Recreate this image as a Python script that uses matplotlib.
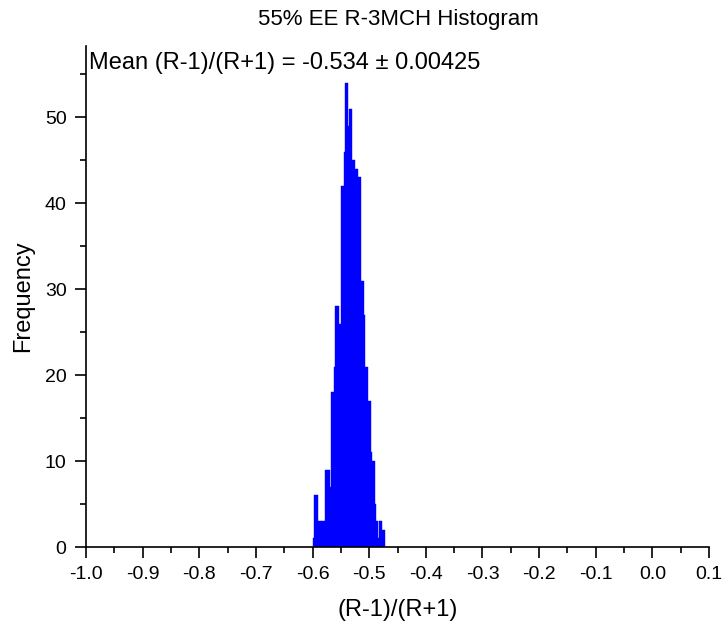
import matplotlib.pyplot as plt
import numpy as np

plt.rcParams['font.family'] = ['Liberation Sans', 'DejaVu Sans']

# histogram: bins of 0.0025 starting at -0.6
bin_start = -0.6
bin_width = 0.0025
counts = [1, 6, 6, 6, 3, 3, 3, 3, 3, 9,
          9, 9, 7, 18, 18, 21, 28, 28, 28, 26,
          42, 42, 46, 54, 54, 49, 51, 51, 45, 45,
          44, 44, 43, 43, 31, 31, 27, 21, 21, 17,
          17, 11, 10, 10, 5, 3, 1, 3, 3, 2, 2]

title = '55% EE R-3MCH Histogram'
note = 'Mean (R-1)/(R+1) = -0.534 \u00b1 0.00425'
xlabel = '(R-1)/(R+1)'
ylabel = 'Frequency'
xticks = [-1.0, -0.9, -0.8, -0.7, -0.6, -0.5, -0.4, -0.3, -0.2, -0.1, 0.0, 0.1]
yticks = [0, 10, 20, 30, 40, 50]

edges = bin_start + bin_width * np.arange(len(counts) + 1)
centers = (edges[:-1] + edges[1:]) / 2

fig = plt.figure(figsize=(7.23, 6.22), dpi=100)
ax = fig.add_axes([86 / 723, 1 - 547 / 622, (709 - 86) / 723, (547 - 46) / 622])

ax.hist(centers, bins=edges, weights=counts, color='#0000ff',
        edgecolor='#0000ff', linewidth=0.3)

ax.set_xlim(-1.0, 0.1)
ax.set_ylim(0, 58.3)
ax.set_xticks(xticks)
ax.set_xticklabels(['%.1f' % t for t in xticks])
ax.set_xticks(np.arange(-0.95, 0.1, 0.1), minor=True)
ax.set_yticks(yticks)
ax.set_yticks(np.arange(5, 58, 10), minor=True)
ax.tick_params(which='major', length=8, width=1.2, labelsize=14, direction='out', pad=6)
ax.tick_params(which='minor', length=4, width=1.2, direction='out')

for s in ['top', 'right']:
    ax.spines[s].set_visible(False)
for s in ['left', 'bottom']:
    ax.spines[s].set_linewidth(1.2)

ax.set_xlabel(xlabel, fontsize=17, labelpad=11)
ax.set_ylabel(ylabel, fontsize=17)
ax.yaxis.set_label_coords(-0.084, 0.5)

fig.text(398 / 723, 1 - 20 / 622, title, fontsize=16, ha='center', va='center')
fig.text(89 / 723, 1 - 63 / 622, note, fontsize=17, ha='left', va='center')

plt.savefig('out.png', dpi=100)
